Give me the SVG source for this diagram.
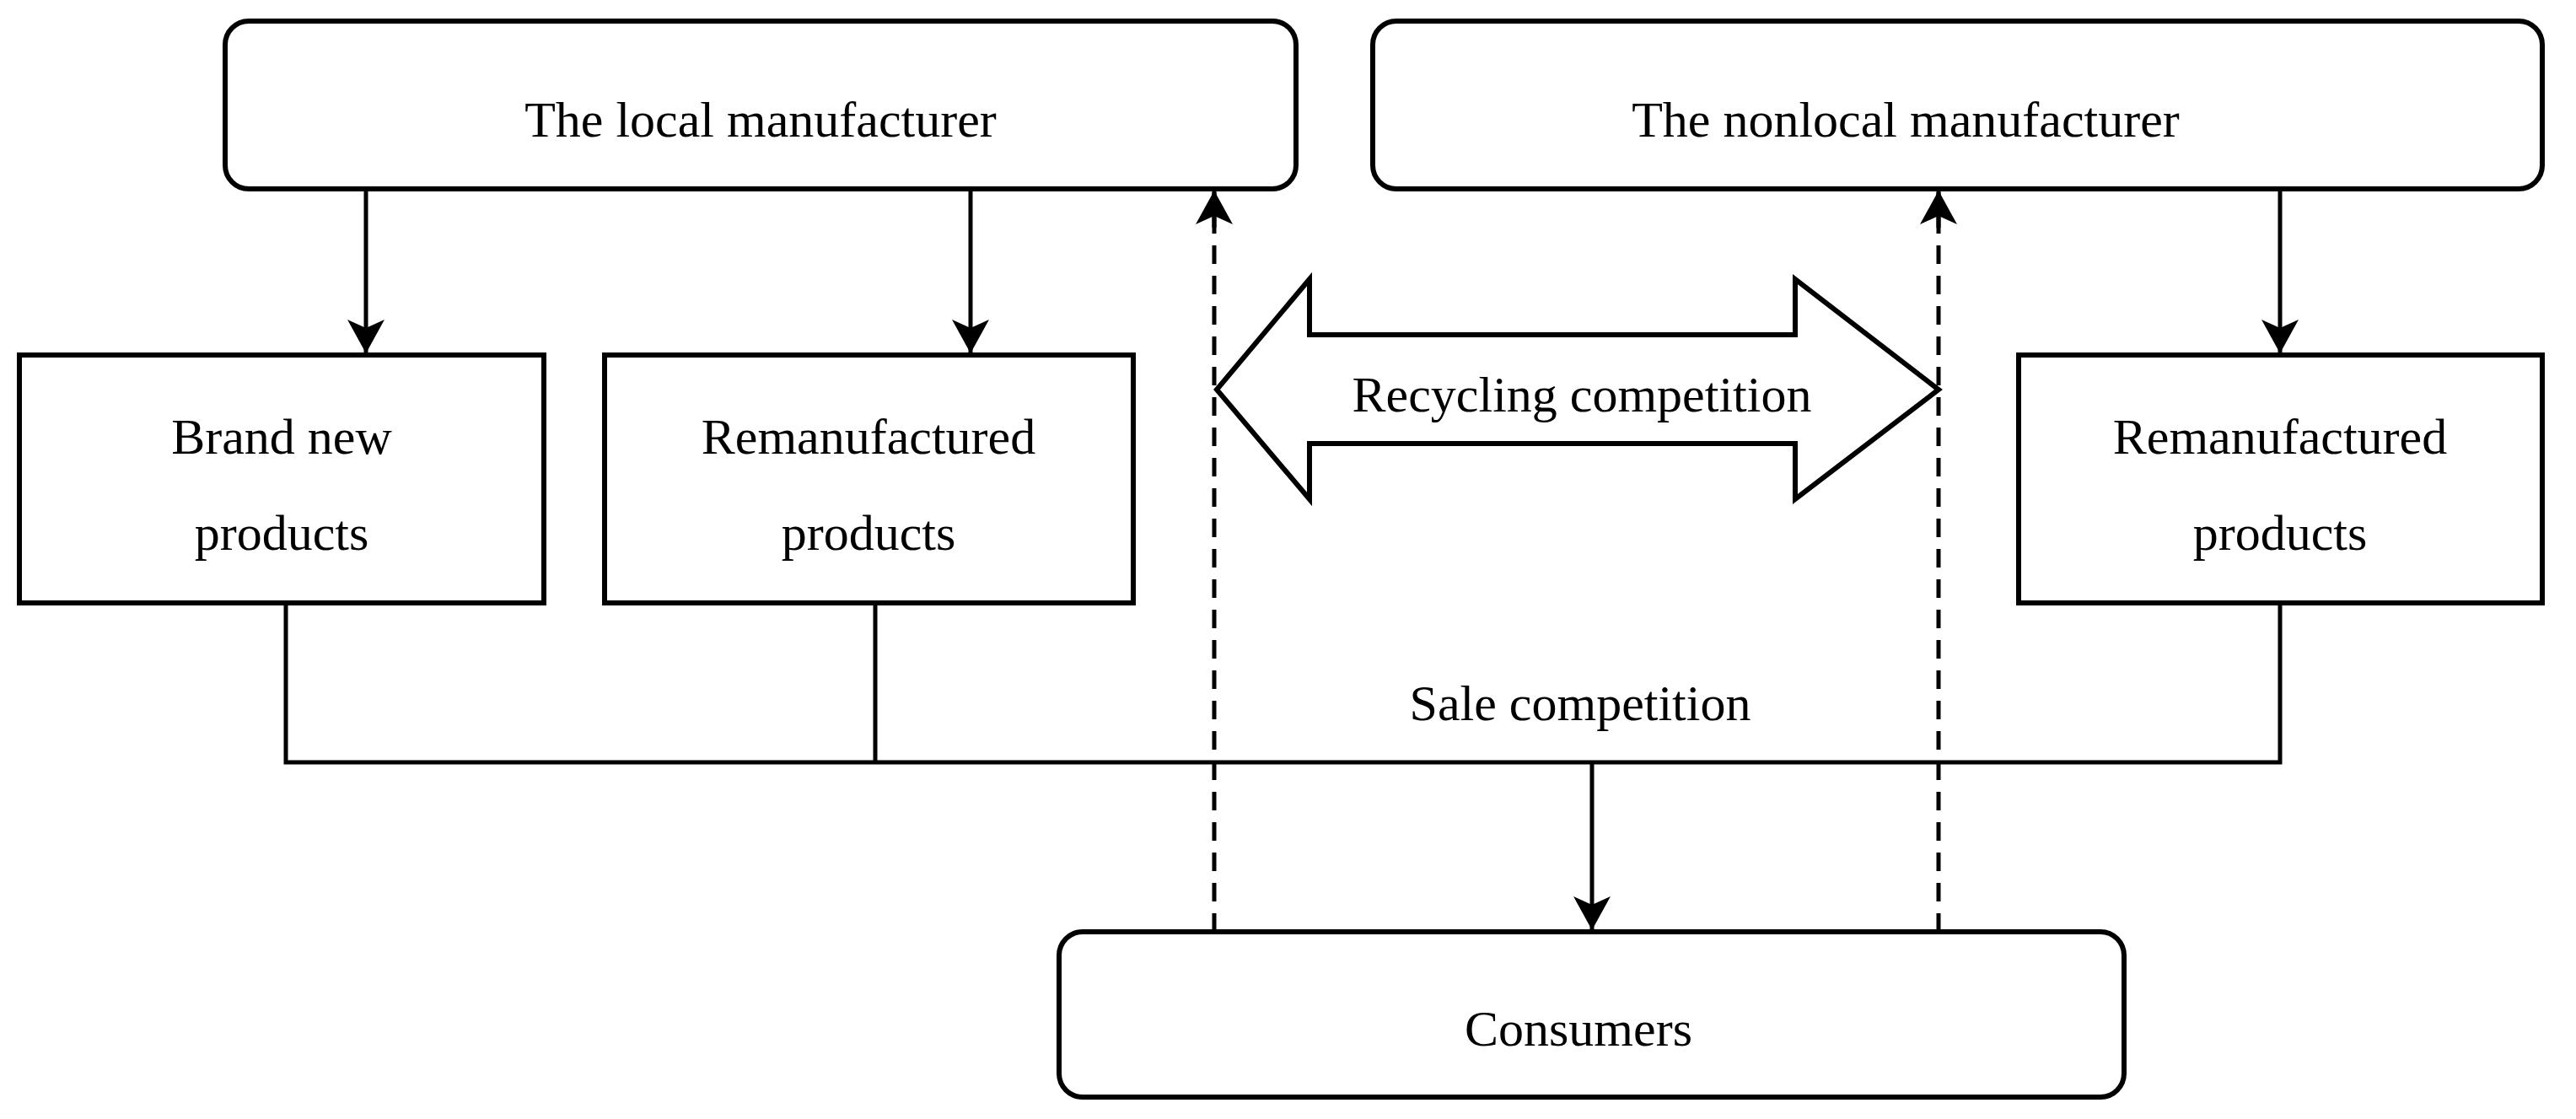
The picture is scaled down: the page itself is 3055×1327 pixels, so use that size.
<svg xmlns="http://www.w3.org/2000/svg" width="3055" height="1327" viewBox="0 0 3055 1327">
<style>
.b{fill:#fff;stroke:#000;stroke-width:6}
.l{fill:none;stroke:#000;stroke-width:5}
.d{fill:none;stroke:#000;stroke-width:5;stroke-dasharray:22,14}
text{font-family:"Liberation Serif","Times New Roman",serif;font-size:60px;text-anchor:middle;fill:#000}
</style>
<defs><marker id="a" markerWidth="12" markerHeight="14" refX="11" refY="7" orient="auto" markerUnits="userSpaceOnUse" viewBox="0 0 12 14"><path d="M0,0 L12,7 L0,14 L3,7 Z" fill="#000"/></marker>
<marker id="ah" markerWidth="40" markerHeight="44" refX="40" refY="22" orient="auto" markerUnits="userSpaceOnUse"><path d="M0,0 L40,22 L0,44 L10,22 Z" fill="#000"/></marker></defs>
<rect width="3055" height="1327" fill="#fff"/>
<g id="connectors">
<path class="l" d="M434,224 V419" marker-end="url(#ah)"/>
<path class="l" d="M1151,224 V419" marker-end="url(#ah)"/>
<path class="l" d="M2704,224 V419" marker-end="url(#ah)"/>
<path class="l" d="M339,715 V904 H2704 V715 M1038,715 V904"/>
<path class="l" d="M1888,904 V1103" marker-end="url(#ah)"/>
<path class="d" d="M1440,1105 V228"/>
<path class="d" d="M2299,1105 V228"/>
<path class="l" d="M1440,270 V226" marker-end="url(#ah)"/>
<path class="l" d="M2299,270 V226" marker-end="url(#ah)"/>
</g>
<g id="recycling"><polygon class="b" points="1443,462 1553,331 1553,397 2129,397 2129,331 2299,462 2129,592 2129,526 1553,526 1553,592"/><text x="1876" y="488">Recycling competition</text></g>
<g id="sale"><text x="1874" y="854">Sale competition</text></g>
<g id="local"><rect class="b" x="267" y="25" width="1270" height="199" rx="28"/><text x="902" y="162">The local manufacturer</text></g>
<g id="nonlocal"><rect class="b" x="1628" y="25" width="1387" height="199" rx="28"/><text x="2260" y="162">The nonlocal manufacturer</text></g>
<g id="brand"><rect class="b" x="23" y="421" width="622" height="294"/><text x="334" y="538">Brand new</text><text x="334" y="652">products</text></g>
<g id="reml"><rect class="b" x="717" y="421" width="627" height="294"/><text x="1030" y="538">Remanufactured</text><text x="1030" y="652">products</text></g>
<g id="remr"><rect class="b" x="2394" y="421" width="621" height="294"/><text x="2704" y="538">Remanufactured</text><text x="2704" y="652">products</text></g>
<g id="consumers"><rect class="b" x="1256" y="1105" width="1263" height="196" rx="28"/><text x="1872" y="1240">Consumers</text></g>
</svg>
